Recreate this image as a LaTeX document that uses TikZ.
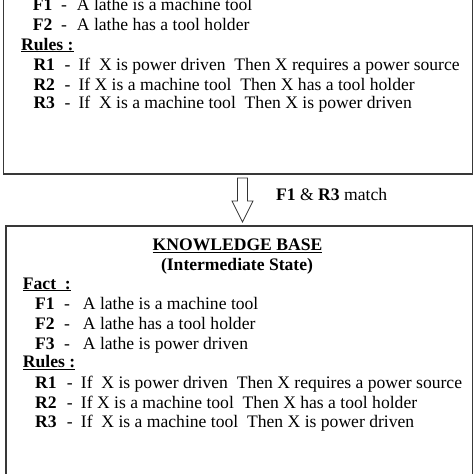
\documentclass[tikz,border=0pt]{standalone}
\usepackage{fontspec}
\setmainfont{Liberation Serif}
\tikzset{
    kbbox/.style={draw=black!78, line width=1.1pt},
    kbline/.style={anchor=base west, inner sep=0pt, font=\fontsize{17.6}{20}\selectfont},
    kbhead/.style={anchor=base, inner sep=0pt, font=\fontsize{17.6}{20}\selectfont\bfseries},
    blockarrow/.style={draw=black!80, line width=0.8pt, fill=white}
}
\begin{document}
\begin{tikzpicture}[x=1pt, y=-1pt]
    \useasboundingbox (0, 0) rectangle (474, 474);
    \begin{scope}[shift={(0, 0)}]
        \draw[kbbox] (3.5, -30) rectangle (472.5, 174);
        \node[kbline] (tRules) at (21, 50) {\textbf{\underline{Rules :}}};
        \foreach \lab/\txt/\y in {F1/{A lathe is a machine tool}/10.7, F2/{A lathe has a tool holder}/30.7}
        {
            \node[kbline] (t\lab) at (32.7, \y) {\textbf{\lab}};
            \node[kbline] (t\lab d) at (61, \y) {-};
            \node[kbline] (t\lab t) at (76.7, \y) {\txt};
        }
        \foreach \lab/\txt/\y in {R1/{If\ \ X is power driven\ \ Then X requires a power source}/70,
                                  R2/{If X is a machine tool\ \ Then X has a tool holder}/90,
                                  R3/{If\ \ X is a machine tool\ \ Then X is power driven}/108.7}
        {
            \node[kbline] (t\lab) at (33.3, \y) {\textbf{\lab}};
            \node[kbline] (t\lab d) at (64.3, \y) {-};
            \node[kbline] (t\lab t) at (78.3, \y) {\txt};
        }
    \end{scope}

    \draw[blockarrow] (237.5, 178) -- (247.5, 178) -- (247.5, 201) -- (253, 201) -- (242.5, 222)
        -- (232, 201) -- (237.5, 201) -- cycle; % F1 & R3 -- F3
    \node[kbline] (match) at (276, 200) {\textbf{F1} \& \textbf{R3} match};

    \begin{scope}[shift={(0, 0)}]
        \draw[kbbox] (6, 226) rectangle (472.5, 500);
        \node[kbhead] (bTitle) at (237.5, 250.7) {\underline{KNOWLEDGE BASE}};
        \node[kbhead] (bState) at (237, 270) {(Intermediate State)};
        \node[kbline] (bFact) at (22.7, 289) {\textbf{\underline{Fact\ \ :}}};
        \node[kbline] (bRules) at (22.7, 367.3) {\textbf{\underline{Rules :}}};
        \foreach \lab/\txt/\y in {F1/{A lathe is a machine tool}/309.3, F2/{A lathe has a tool holder}/329.3,
                                  F3/{A lathe is power driven}/349}
        {
            \node[kbline] (b\lab) at (35, \y) {\textbf{\lab}};
            \node[kbline] (b\lab d) at (64, \y) {-};
            \node[kbline] (b\lab t) at (82.7, \y) {\txt};
        }
        \foreach \lab/\txt/\y in {R1/{If\ \ X is power driven\ \ Then X requires a power source}/388.3,
                                  R2/{If X is a machine tool\ \ Then X has a tool holder}/408.3,
                                  R3/{If\ \ X is a machine tool\ \ Then X is power driven}/427.7}
        {
            \node[kbline] (b\lab) at (35, \y) {\textbf{\lab}};
            \node[kbline] (b\lab d) at (66.7, \y) {-};
            \node[kbline] (b\lab t) at (80.7, \y) {\txt};
        }
    \end{scope}
\end{tikzpicture}
\end{document}
